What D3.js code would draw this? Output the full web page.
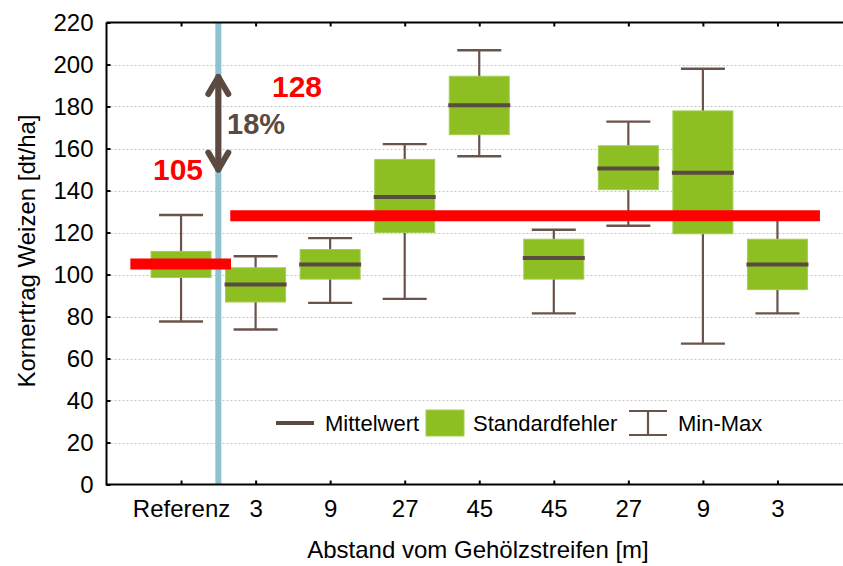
<!DOCTYPE html>
<html>
<head>
<meta charset="utf-8">
<script src="https://cdn.jsdelivr.net/npm/d3@7"></script>
<style>
  html, body { margin: 0; padding: 0; background: #fff; }
  svg { display: block; font-family: "Liberation Sans", Arial, Helvetica, sans-serif; }
</style>
</head>
<body>
<svg id="chart" width="843" height="566"></svg>
<script>
// Kornertrag Weizen nach Abstand vom Gehölzstreifen
const categories = ["Referenz", "3", "9", "27", "45", "45", "27", "9", "3"];
const meanVals = [105, 95.2, 104.8, 136.9, 180.6, 107.8, 150.5, 148.5, 104.8];
const seLow    = [98.6, 86.9, 97.8, 120.0, 166.6, 97.8, 140.4, 119.4, 92.8];
const seHigh   = [111.0, 103.2, 111.9, 154.8, 194.4, 116.8, 161.3, 177.9, 116.8];
const minVals  = [77.6, 73.8, 86.5, 88.4, 156.3, 81.5, 123.2, 67.1, 81.5];
const maxVals  = [128.3, 108.7, 117.3, 162.1, 206.8, 121.3, 172.8, 198.0, 127.0];
const yTicks   = [0, 20, 40, 60, 80, 100, 120, 140, 160, 180, 200, 220];
const gridTicks = [20, 40, 60, 80, 100, 120, 140, 160, 180, 200];

// Durchschnittsniveaus: Referenz vs. Gehölzstreifen-Flächen
const levelValues = [105, 128];
const levelLabels = ["105", "128"];
const levelStart  = [-0.68, 0.66];   // in Kategorie-Indizes
const levelEnd    = [0.67, 8.57];
const diffLabel   = "18%";
const arrowRange  = [149, 195];

const svg = d3.select("#chart");
const plotLeft = 106.5, plotTop = 22.5, plotBottom = 484.5, plotRight = 852;

const idx = d3.range(categories.length);
const x = d3.scalePoint().domain(idx).range([plotLeft, plotRight]).padding(1);
const xi = d3.scaleLinear().domain([-1, categories.length]).range([plotLeft, plotRight]);
const y = d3.scaleLinear().domain([0, 220]).range([plotBottom, plotTop]);

const green = "#8dbe22";
const brown = "#5b4a41";
const whisk = "#6a544a";
const red = "#ff0000";
const blue = "#8cc2d2";

// Gitterlinien
svg.append("g").selectAll("line").data(gridTicks).join("line")
  .attr("x1", plotLeft).attr("x2", plotRight)
  .attr("y1", d => Math.round(y(d)) + 0.5).attr("y2", d => Math.round(y(d)) + 0.5)
  .attr("stroke", "#c4c4c4").attr("stroke-width", 1).attr("stroke-dasharray", "2,2");

// Trennlinie zwischen Referenz und Versuchsflächen
svg.append("line")
  .attr("x1", xi(0.5)).attr("x2", xi(0.5))
  .attr("y1", plotTop).attr("y2", plotBottom)
  .attr("stroke", blue).attr("stroke-width", 6);

const boxW = 60, capW = 44, meanW = 62;
const g = svg.append("g");

// Min-Max Whisker
g.selectAll("line.wh").data(idx).join("line").attr("class", "wh")
  .attr("x1", i => x(i)).attr("x2", i => x(i))
  .attr("y1", i => y(minVals[i])).attr("y2", i => y(maxVals[i]))
  .attr("stroke", whisk).attr("stroke-width", 2.2);
g.selectAll("line.capT").data(idx).join("line").attr("class", "capT")
  .attr("x1", i => x(i) - capW / 2).attr("x2", i => x(i) + capW / 2)
  .attr("y1", i => y(maxVals[i])).attr("y2", i => y(maxVals[i]))
  .attr("stroke", whisk).attr("stroke-width", 2.4);
g.selectAll("line.capB").data(idx).join("line").attr("class", "capB")
  .attr("x1", i => x(i) - capW / 2).attr("x2", i => x(i) + capW / 2)
  .attr("y1", i => y(minVals[i])).attr("y2", i => y(minVals[i]))
  .attr("stroke", whisk).attr("stroke-width", 2.4);

// Standardfehler-Boxen
g.selectAll("rect.se").data(idx).join("rect").attr("class", "se")
  .attr("x", i => x(i) - boxW / 2).attr("width", boxW)
  .attr("y", i => y(seHigh[i])).attr("height", i => y(seLow[i]) - y(seHigh[i]))
  .attr("fill", green).attr("stroke", "#a3cd55").attr("stroke-width", 1);

// Mittelwerte
g.selectAll("line.mean").data(idx).join("line").attr("class", "mean")
  .attr("x1", i => x(i) - meanW / 2).attr("x2", i => x(i) + meanW / 2)
  .attr("y1", i => y(meanVals[i])).attr("y2", i => y(meanVals[i]))
  .attr("stroke", brown).attr("stroke-width", 4);

// Durchschnittsniveaus (rot)
svg.append("g").selectAll("line").data(levelValues).join("line")
  .attr("x1", (d, k) => xi(levelStart[k])).attr("x2", (d, k) => xi(levelEnd[k]))
  .attr("y1", d => y(d)).attr("y2", d => y(d))
  .attr("stroke", red).attr("stroke-width", 11);

// Achsenrahmen
svg.append("path")
  .attr("d", `M${plotLeft},${plotTop}H${plotRight}M${plotLeft},${plotTop}V${plotBottom}H${plotRight}`)
  .attr("fill", "none").attr("stroke", "#000").attr("stroke-width", 2);

// Y-Achse
const yAxis = svg.append("g").attr("transform", `translate(${plotLeft},0)`)
  .call(d3.axisLeft(y).tickValues(yTicks).tickSize(-4).tickPadding(13));
yAxis.select(".domain").remove();
yAxis.selectAll(".tick line").attr("stroke", "#000").attr("stroke-width", 2);
yAxis.selectAll(".tick text").attr("font-size", 24).attr("fill", "#000")
  .attr("font-family", "'Liberation Sans', Arial, sans-serif");

// X-Achse unten
const xAxis = svg.append("g").attr("transform", `translate(0,${plotBottom})`)
  .call(d3.axisBottom(x).tickSize(-4).tickPadding(15).tickFormat(i => categories[i]));
xAxis.select(".domain").remove();
xAxis.selectAll(".tick line").attr("stroke", "#000").attr("stroke-width", 2);
xAxis.selectAll(".tick text").attr("font-size", 24).attr("fill", "#000")
  .attr("font-family", "'Liberation Sans', Arial, sans-serif");

// X-Achse oben (nur Striche)
const xTop = svg.append("g").attr("transform", `translate(0,${plotTop})`)
  .call(d3.axisTop(x).tickSize(-4).tickFormat(""));
xTop.select(".domain").remove();
xTop.selectAll(".tick line").attr("stroke", "#000").attr("stroke-width", 2);

// Achsentitel
svg.append("text")
  .attr("x", 478).attr("y", 558).attr("text-anchor", "middle")
  .attr("font-size", 24).attr("fill", "#000")
  .text("Abstand vom Gehölzstreifen [m]");
svg.append("text")
  .attr("transform", "translate(35,251) rotate(-90)").attr("text-anchor", "middle")
  .attr("font-size", 24).attr("fill", "#000")
  .text("Kornertrag Weizen [dt/ha]");

// Doppelpfeil mit Differenz
const ax = xi(0.5);
const a0 = y(arrowRange[1]), a1 = y(arrowRange[0]);
const arrow = svg.append("g").attr("stroke", brown).attr("stroke-width", 6)
  .attr("fill", "none").attr("stroke-linecap", "round").attr("stroke-linejoin", "round");
arrow.append("line").attr("x1", ax).attr("x2", ax).attr("y1", a0 + 2).attr("y2", a1 - 2);
arrow.append("path").attr("d", `M${ax - 10},${a0 + 19}L${ax},${a0 + 2}L${ax + 10},${a0 + 19}`);
arrow.append("path").attr("d", `M${ax - 10},${a1 - 19}L${ax},${a1 - 2}L${ax + 10},${a1 - 19}`);

svg.append("text").attr("x", 227).attr("y", 134)
  .attr("font-size", 29).attr("font-weight", "bold").attr("fill", brown)
  .text(diffLabel);

// Werte der Niveaus
const labelPos = [[153, 180], [272, 97]];
svg.append("g").selectAll("text").data(levelLabels).join("text")
  .attr("x", (d, k) => labelPos[k][0]).attr("y", (d, k) => labelPos[k][1])
  .attr("font-size", 30).attr("font-weight", "bold").attr("fill", red)
  .text(d => d);

// Legende
const leg = svg.append("g").attr("font-size", 22).attr("fill", "#000");
leg.append("line").attr("x1", 276).attr("x2", 314).attr("y1", 423).attr("y2", 423)
  .attr("stroke", brown).attr("stroke-width", 4);
leg.append("text").attr("x", 325).attr("y", 431).text("Mittelwert");
leg.append("rect").attr("x", 426).attr("y", 410).attr("width", 38).attr("height", 26)
  .attr("fill", green).attr("stroke", "#a3cd55").attr("stroke-width", 1);
leg.append("text").attr("x", 473).attr("y", 431).text("Standardfehler");
const mm = leg.append("g").attr("stroke", whisk).attr("stroke-width", 2.2);
mm.append("line").attr("x1", 629).attr("x2", 667).attr("y1", 411).attr("y2", 411);
mm.append("line").attr("x1", 629).attr("x2", 667).attr("y1", 435).attr("y2", 435);
mm.append("line").attr("x1", 648).attr("x2", 648).attr("y1", 411).attr("y2", 435);
leg.append("text").attr("x", 678).attr("y", 431).text("Min-Max");
</script>
</body>
</html>
